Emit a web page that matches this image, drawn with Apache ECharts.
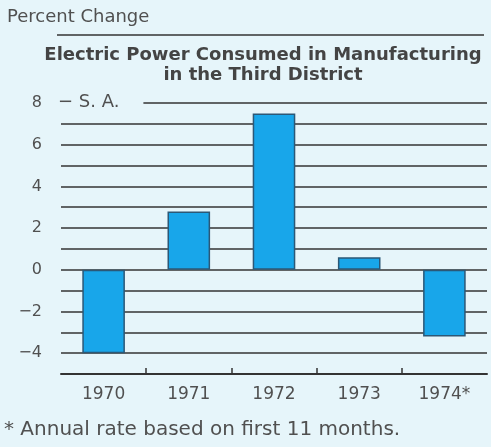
<!DOCTYPE html>
<html>
<head>
<meta charset="utf-8">
<script src="https://cdn.jsdelivr.net/npm/echarts@6/dist/echarts.min.js"></script>
<style>
html, body { margin: 0; padding: 0; background: #e6f5fa; }
#chart { width: 491px; height: 447px; }
</style>
</head>
<body>
<div id="chart"></div>
<script>
// 数据
var years = ['1970', '1971', '1972', '1973', '1974*']
var pctChange = [-4.0, 2.8, 7.5, 0.6, -3.2]
var yTicks = [-4, -2, 0, 2, 4, 6, 8]
// year boundaries that get a small tick on the base line
var yearBreaks = [1, 2, 3, 4]

var myChart = echarts.init(document.getElementById('chart'))
var bg = '#e6f5fa'
var ink = '#505050'
var font = '"DejaVu Sans", Verdana, sans-serif'

var option = {
  backgroundColor: bg,
  animation: false,
  title: {
    text: 'Electric Power Consumed in Manufacturing\nin the Third District',
    left: 258,
    top: 40,
    textAlign: 'center',
    textStyle: {
      fontFamily: font,
      fontSize: 18,
      fontWeight: 'bold',
      color: '#444',
      lineHeight: 20
    }
  },
  grid: {
    left: 61,
    right: 4,
    top: 103,
    bottom: 73
  },
  xAxis: [
    {
      type: 'category',
      data: years,
      axisLine: { onZero: false, lineStyle: { color: '#333', width: 2 } },
      axisTick: { show: false },
      axisLabel: {
        color: ink,
        fontFamily: font,
        fontSize: 17,
        margin: 12
      }
    },
    {
      // only used for the boundary ticks
      type: 'value',
      position: 'bottom',
      min: 0,
      max: years.length,
      axisLine: { show: false, onZero: false },
      splitLine: { show: false },
      axisLabel: { show: false },
      axisTick: {
        show: true,
        inside: true,
        length: 6,
        customValues: yearBreaks,
        lineStyle: { color: '#333', width: 1.5 }
      }
    }
  ],
  yAxis: {
    type: 'value',
    min: -5,
    max: 8,
    interval: 1,
    axisLine: { show: false },
    axisTick: { show: false },
    splitLine: { lineStyle: { color: '#333', width: 1.5 } },
    axisLabel: {
      color: ink,
      fontFamily: font,
      fontSize: 16,
      margin: 19,
      formatter: function (v) {
        if (yTicks.indexOf(v) < 0) return ''
        return v < 0 ? '\u2212' + Math.abs(v) : String(v)
      }
    }
  },
  graphic: [
    {
      type: 'text',
      left: 7,
      top: 8,
      z: 100,
      style: {
        text: 'Percent Change',
        font: '18px ' + font,
        fill: ink
      }
    },
    {
      type: 'line',
      z: 100,
      shape: { x1: 57, y1: 35, x2: 484, y2: 35 },
      style: { stroke: '#333', lineWidth: 1.5 }
    },
    {
      type: 'text',
      left: 56,
      top: 92,
      z: 100,
      style: {
        text: '\u2212 S. A.',
        font: '18px ' + font,
        fill: ink,
        backgroundColor: bg,
        padding: [1, 24, 1, 2]
      }
    },
    {
      type: 'text',
      left: 4,
      top: 420,
      z: 100,
      style: {
        text: '* Annual rate based on first 11 months.',
        font: '20px ' + font,
        fill: ink
      }
    }
  ],
  series: [
    {
      name: 'Percent Change',
      type: 'bar',
      data: pctChange,
      barWidth: '50%',
      itemStyle: {
        color: '#18a6ea',
        borderColor: '#2b5877',
        borderWidth: 1.5
      }
    }
  ]
}
myChart.setOption(option)
</script>
</body>
</html>
